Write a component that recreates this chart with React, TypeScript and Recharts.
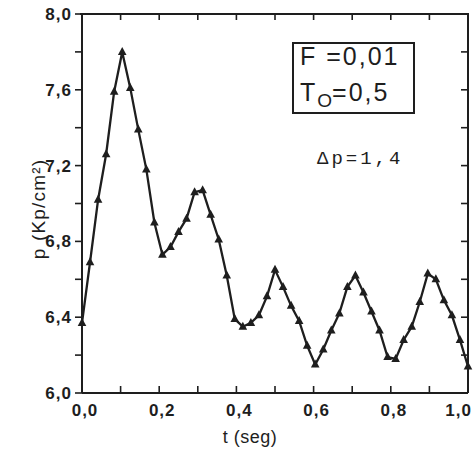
import { LineChart, Line, XAxis, YAxis } from "recharts"

// time grid (s), step T0/24
const times = [
  0, 0.0208, 0.0417, 0.0625, 0.0833, 0.1042, 0.125, 0.1458, 0.1667, 0.1875,
  0.2083, 0.2292, 0.25, 0.2708, 0.2917, 0.3125, 0.3333, 0.3542, 0.375, 0.3958,
  0.4167, 0.4375, 0.4583, 0.4792, 0.5, 0.5208, 0.5417, 0.5625, 0.5833, 0.6042,
  0.625, 0.6458, 0.6667, 0.6875, 0.7083, 0.7292, 0.75, 0.7708, 0.7917, 0.8125,
  0.8333, 0.8542, 0.875, 0.8958, 0.9167, 0.9375, 0.9583, 0.9792, 1.0,
]

// pressure p (Kp/cm2)
const pressure = [
  6.37, 6.69, 7.02, 7.26, 7.59, 7.8, 7.61, 7.39, 7.18, 6.9,
  6.73, 6.77, 6.85, 6.92, 7.06, 7.07, 6.94, 6.81, 6.62, 6.39,
  6.35, 6.37, 6.41, 6.51, 6.65, 6.56, 6.46, 6.38, 6.25, 6.15,
  6.23, 6.33, 6.42, 6.56, 6.62, 6.53, 6.43, 6.33, 6.19, 6.18,
  6.28, 6.35, 6.48, 6.63, 6.6, 6.49, 6.41, 6.28, 6.14,
]

const xTicks = [0, 0.1, 0.2, 0.3, 0.4, 0.5, 0.6, 0.7, 0.8, 0.9, 1.0]
const yTicks = [6.0, 6.2, 6.4, 6.6, 6.8, 7.0, 7.2, 7.4, 7.6, 7.8, 8.0]
const xLabelled = [0, 0.2, 0.4, 0.6, 0.8, 1.0]
const yLabelled = [6.0, 6.4, 6.8, 7.2, 7.6, 8.0]

const X_MIN = 0
const X_MAX = 1
const Y_MIN = 6
const Y_MAX = 8

// chart layout
const W = 473
const H = 452
const MARGIN = { top: 14, right: 5, bottom: 0, left: 0 }
const Y_AXIS_W = 82
const X_AXIS_H = 59
const PLOT_L = MARGIN.left + Y_AXIS_W
const PLOT_T = MARGIN.top
const PLOT_W = W - MARGIN.left - MARGIN.right - Y_AXIS_W
const PLOT_H = H - MARGIN.top - MARGIN.bottom - X_AXIS_H

const data = times.map((t, i) => ({ t, p: pressure[i] }))

const INK = "#1e1e1e"
const comma = (v: number) => v.toFixed(1).replace(".", ",")
const near = (a: number, b: number) => Math.abs(a - b) < 1e-6
const isIn = (list: number[], v: number) => list.some((l) => near(l, v))

const tickFont = {
  fontFamily: "'Liberation Sans', Arial, sans-serif",
  fontWeight: 700,
  fontSize: 17,
  letterSpacing: 1,
  fill: INK,
}

const BottomTick = ({ x, y, payload }: any) => {
  const v = payload.value
  const last = near(v, X_MAX)
  return (
    <g>
      <line x1={x} x2={x} y1={y} y2={y - 7} stroke={INK} strokeWidth={1.6} />
      {isIn(xLabelled, v) && (
        <text
          x={last ? x + 4 : x + 3}
          y={y + 23}
          textAnchor={last ? "end" : "middle"}
          {...tickFont}
        >
          {comma(v)}
        </text>
      )}
    </g>
  )
}

const LeftTick = ({ x, y, payload }: any) => {
  const v = payload.value
  return (
    <g>
      <line x1={x} x2={x - 7} y1={y} y2={y} stroke={INK} strokeWidth={1.6} />
      {isIn(yLabelled, v) && (
        <text x={x - 10} y={y + 6} textAnchor="end" {...tickFont}>
          {comma(v)}
        </text>
      )}
    </g>
  )
}

const Triangle = ({ cx, cy }: any) => {
  if (cx == null || cy == null) return null
  return (
    <polygon
      points={`${cx},${cy - 5} ${cx - 4.3},${cy + 3} ${cx + 4.3},${cy + 3}`}
      fill={INK}
    />
  )
}

const YTitle = () => (
  <text
    transform="translate(45,209) rotate(-90)"
    textAnchor="middle"
    fontFamily="'Liberation Sans', Arial, sans-serif"
    fontSize={19}
    letterSpacing={1.2}
    fill={INK}
  >
    p (Kp/cm²)
  </text>
)

const XTitle = () => (
  <text
    x={250}
    y={443}
    textAnchor="middle"
    fontFamily="'Liberation Sans', Arial, sans-serif"
    fontSize={18}
    letterSpacing={0.5}
    fill={INK}
  >
    t (seg)
  </text>
)

// top and right side of the frame, with inward ticks
const Frame = () => {
  const fx = (t: number) => PLOT_L + ((t - X_MIN) / (X_MAX - X_MIN)) * PLOT_W
  const fy = (v: number) => PLOT_T + ((Y_MAX - v) / (Y_MAX - Y_MIN)) * PLOT_H
  const right = PLOT_L + PLOT_W
  return (
    <>
      <div
        style={{
          position: "absolute",
          left: PLOT_L - 2,
          top: PLOT_T - 1,
          width: PLOT_W + 3,
          height: PLOT_H + 1,
          borderTop: `2px solid ${INK}`,
          borderRight: `2px solid ${INK}`,
          boxSizing: "border-box",
          zIndex: 2,
          pointerEvents: "none",
        }}
      />
      <svg
        width={W}
        height={H}
        style={{ position: "absolute", left: 0, top: 0, zIndex: 2, pointerEvents: "none" }}
      >
        {xTicks.map((t) => (
          <line
            key={`t${t}`}
            x1={fx(t)}
            x2={fx(t)}
            y1={PLOT_T}
            y2={PLOT_T + 6}
            stroke={INK}
            strokeWidth={1.6}
          />
        ))}
        {yTicks.map((v) => (
          <line
            key={`r${v}`}
            x1={right}
            x2={right - 7}
            y1={fy(v)}
            y2={fy(v)}
            stroke={INK}
            strokeWidth={1.6}
          />
        ))}
      </svg>
    </>
  )
}

const boxText = {
  position: "absolute" as const,
  left: 6,
  fontFamily: "'Liberation Sans', Arial, sans-serif",
  fontSize: 25,
  letterSpacing: 2,
  lineHeight: "25px",
  whiteSpace: "nowrap" as const,
}

const App = () => {
  return (
    <div
      style={{
        position: "absolute",
        left: 0,
        top: 0,
        width: W,
        height: H,
        background: "#fff",
        color: INK,
      }}
    >
      <LineChart width={W} height={H} data={data} margin={MARGIN}>
        <XAxis
          xAxisId="b"
          dataKey="t"
          type="number"
          domain={[X_MIN, X_MAX]}
          ticks={xTicks}
          interval={0}
          height={X_AXIS_H}
          tickSize={0}
          tickMargin={0}
          tickLine={false}
          axisLine={{ stroke: INK, strokeWidth: 2 }}
          tick={<BottomTick />}
          label={<XTitle />}
        />
        <YAxis
          yAxisId="l"
          type="number"
          domain={[Y_MIN, Y_MAX]}
          ticks={yTicks}
          interval={0}
          width={Y_AXIS_W}
          tickSize={0}
          tickMargin={0}
          tickLine={false}
          axisLine={{ stroke: INK, strokeWidth: 2 }}
          tick={<LeftTick />}
          label={<YTitle />}
        />
        <Line
          xAxisId="b"
          yAxisId="l"
          dataKey="p"
          type="linear"
          stroke={INK}
          strokeWidth={2.3}
          dot={(props: any) => <Triangle key={props.index} {...props} />}
          activeDot={false}
          isAnimationActive={false}
        />
      </LineChart>

      <Frame />

      <div
        style={{
          position: "absolute",
          left: 292,
          top: 42,
          width: 123,
          height: 72,
          border: `2px solid ${INK}`,
          boxSizing: "border-box",
        }}
      >
        <div style={{ ...boxText, top: 0 }}>F =0,01</div>
        <div style={{ ...boxText, top: 36 }}>
          T<span style={{ fontSize: 19, position: "relative", top: 6, letterSpacing: 0 }}>O</span>=0,5
        </div>
      </div>

      <div
        style={{
          position: "absolute",
          left: 317,
          top: 148,
          fontFamily: "'Liberation Mono', 'DejaVu Sans Mono', monospace",
          fontSize: 19,
          letterSpacing: 3,
          whiteSpace: "nowrap",
        }}
      >
        Δp=1,4
      </div>
    </div>
  )
}

export default App
